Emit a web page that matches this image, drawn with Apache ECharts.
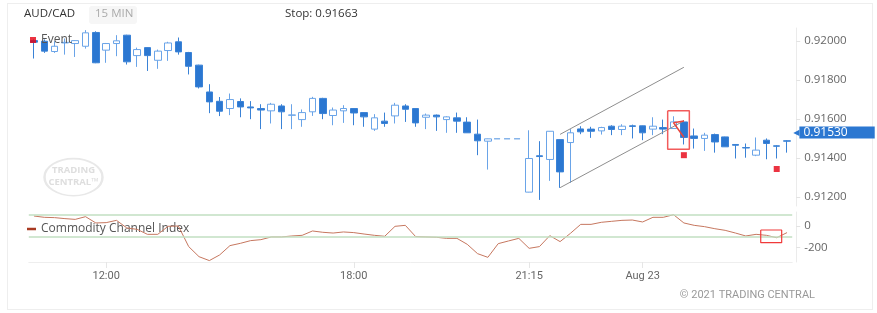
<!DOCTYPE html>
<html>
<head>
<meta charset="utf-8">
<script src="https://cdn.jsdelivr.net/npm/echarts@6/dist/echarts.min.js"></script>
<style>
html,body{margin:0;padding:0;background:#fff;}
#wrap{position:relative;width:877px;height:313px;overflow:hidden;}
#card{position:absolute;left:7px;top:3px;width:866px;height:307px;border:1px solid #eeeeee;box-sizing:border-box;}
#chart{position:absolute;left:0;top:0;width:877px;height:313px;}
</style>
</head>
<body>
<div id="wrap"><div id="card"></div><div id="chart"></div></div>
<script>
// ---- data ----
const categories = [
 '08-20 10:15','08-20 10:30','08-20 10:45','08-20 11:00','08-20 11:15','08-20 11:30','08-20 11:45','08-20 12:00',
 '08-20 12:15','08-20 12:30','08-20 12:45','08-20 13:00','08-20 13:15','08-20 13:30','08-20 13:45','08-20 14:00',
 '08-20 14:15','08-20 14:30','08-20 14:45','08-20 15:00','08-20 15:15','08-20 15:30','08-20 15:45','08-20 16:00',
 '08-20 16:15','08-20 16:30','08-20 16:45','08-20 17:00','08-20 17:15','08-20 17:30','08-20 17:45','08-20 18:00',
 '08-20 18:15','08-20 18:30','08-20 18:45','08-20 19:00','08-20 19:15','08-20 19:30','08-20 19:45','08-20 20:00',
 '08-20 20:15','08-20 20:30','08-20 20:45','08-20 21:00','08-20 21:15',
 '08-22 20:30','08-22 20:45','08-22 21:00',
 '08-22 21:15','08-22 21:30','08-22 21:45','08-22 22:00','08-22 22:15','08-22 22:30','08-22 22:45','08-22 23:00',
 '08-22 23:15','08-22 23:30','08-22 23:45','08-23 00:00','08-23 00:15','08-23 00:30','08-23 00:45','08-23 01:00',
 '08-23 01:15','08-23 01:30','08-23 01:45','08-23 02:00','08-23 02:15','08-23 02:30','08-23 02:45','08-23 03:00',
 '08-23 03:15','08-23 03:30'
];
const tickLabels = {'08-20 12:00':'12:00','08-20 18:00':'18:00','08-22 21:15':'21:15','08-23 00:00':'Aug 23'};

const opens = [0.92003,0.92000,0.91947,0.91991,0.91988,0.91974,0.92045,0.91954,0.91988,0.92031,
 0.91926,0.91967,0.91902,0.91952,0.91997,0.91942,0.91877,0.91739,0.91691,0.91654,
 0.91690,0.91662,0.91654,0.91642,0.91667,0.91619,0.91597,0.91637,0.91706,0.91618,
 0.91642,0.91654,0.91633,0.91548,0.91589,0.91616,0.91667,0.91654,0.91609,0.91620,
 0.91597,0.91606,0.91584,0.91522,0.91486,null,null,null,0.91224,0.91411,
 0.91392,0.91494,0.91479,0.91549,0.91548,0.91539,0.91563,0.91546,0.91565,0.91565,
 0.91548,0.91556,0.91551,0.91585,0.91513,0.91500,0.91520,0.91508,0.91469,0.91453,
 0.91414,0.91491,0.91462,0.91488];
const closes = [0.91995,0.91949,0.91974,0.91994,0.92003,0.92043,0.91889,0.91988,0.92002,0.91894,
 0.91957,0.91926,0.91949,0.91991,0.91945,0.91871,0.91765,0.91688,0.91640,0.91700,
 0.91662,0.91657,0.91646,0.91676,0.91637,0.91621,0.91633,0.91706,0.91628,0.91646,
 0.91654,0.91631,0.91611,0.91606,0.91577,0.91671,0.91650,0.91580,0.91620,0.91611,
 0.91611,0.91589,0.91529,0.91488,0.91498,null,null,null,0.91397,0.91407,
 0.91537,0.91328,0.91529,0.91534,0.91537,0.91556,0.91546,0.91563,0.91562,0.91529,
 0.91563,0.91548,0.91585,0.91505,0.91500,0.91517,0.91482,0.91457,0.91465,0.91451,
 0.91440,0.91474,0.91460,0.91486];
const lows = [0.91911,0.91940,0.91940,0.91931,0.91919,0.91962,0.91887,0.91889,0.91923,0.91880,
 0.91868,0.91847,0.91858,0.91899,0.91931,0.91829,0.91757,0.91630,0.91615,0.91620,
 0.91609,0.91599,0.91548,0.91577,0.91548,0.91548,0.91560,0.91616,0.91599,0.91568,
 0.91580,0.91568,0.91560,0.91539,0.91560,0.91577,0.91585,0.91560,0.91548,0.91539,
 0.91529,0.91529,0.91528,0.91414,0.91340,null,null,null,0.91223,0.91184,
 0.91282,0.91246,0.91272,0.91522,0.91503,0.91520,0.91517,0.91517,0.91500,0.91491,
 0.91517,0.91522,0.91550,0.91469,0.91448,0.91436,0.91427,0.91456,0.91397,0.91401,
 0.91409,0.91393,0.91397,0.91427];
const highs = [0.92009,0.92009,0.92000,0.92014,0.92005,0.92057,0.92051,0.91991,0.92031,0.92033,
 0.91967,0.91969,0.91957,0.91997,0.92019,0.91945,0.91879,0.91779,0.91713,0.91731,
 0.91706,0.91692,0.91676,0.91683,0.91676,0.91676,0.91649,0.91714,0.91709,0.91659,
 0.91671,0.91655,0.91634,0.91625,0.91633,0.91683,0.91676,0.91655,0.91628,0.91623,
 0.91614,0.91633,0.91609,0.91597,0.91499,null,null,null,0.91542,0.91486,
 0.91538,0.91495,0.91548,0.91563,0.91560,0.91560,0.91568,0.91573,0.91571,0.91566,
 0.91609,0.91597,0.91614,0.91594,0.91551,0.91529,0.91525,0.91509,0.91470,0.91474,
 0.91505,0.91500,0.91465,0.91491];

const cciValues = [92,80,77,68,61,86,28,31,52,-18,
 -31,-77,-77,-3,0,-190,-283,-319,-267,-181,
 -160,-135,-126,-101,-101,-92,-86,-46,-58,-65,
 -55,-61,-74,-86,-95,-3,6,-98,-101,-104,
 -114,-114,-169,-255,-289,-163,-138,-114,-206,-190,
 -89,-144,-68,15,15,34,43,52,55,37,
 80,80,104,28,6,-6,-25,-40,-65,-92,
 -77,-86,-108,-61];
const cciLevels = [100, -100];

const eventMarks = [[63, 0.91414], [72, 0.91343]];
const gapLine = [[44.6, 0.91498], [47.4, 0.91498]];
const channelUpper = [[51, 0.91521], [63, 0.91866]];
const channelLower = [[51, 0.91247], [63, 0.91590]];
const alertBox = [[61.43,0.91643],[63.53,0.91643],[63.53,0.91444],[61.43,0.91444],[61.43,0.91643]];
const alertArrow = [[63,0.91590],[62,0.91581],[63,0.91506]];
const cciBox = [[70.45,-37],[72.48,-37],[72.48,-154],[70.45,-154],[70.45,-37]];
const lastPrice = 0.91530;
const stopText = 'Stop: 0.91663';

// ---- build ----
const candleData = opens.map((o,i)=> o===null ? '-' : [o, closes[i], lows[i], highs[i]]);
const FONT = "'Open Sans', 'Noto Sans', sans-serif";
const chart = echarts.init(document.getElementById('chart'), null, {renderer:'canvas'});
const GRID_L = 28.8, GRID_R = 84.8;
const ovl = {type:'line', showSymbol:false, silent:true, animation:false, z:5};

chart.setOption({
  animation:false,
  textStyle:{fontFamily:FONT},
  grid:[
    {left:GRID_L, right:GRID_R, top:28, height:178},
    {left:GRID_L, right:GRID_R, top:212, height:50}
  ],
  legend:[
    {left:30, top:34, itemWidth:6, itemHeight:6, selectedMode:false, padding:0,
     textStyle:{color:'#555', fontSize:12, fontFamily:FONT},
     data:[{name:'Event', icon:'rect', itemStyle:{color:'#e60012'}}]},
    {left:27, top:223, itemWidth:9, itemHeight:2.5, selectedMode:false, padding:0,
     textStyle:{color:'#555', fontSize:12, fontFamily:FONT},
     data:[{name:'Commodity Channel Index', icon:'rect', itemStyle:{color:'#a83a22'}}]}
  ],
  xAxis:[
    {type:'category', gridIndex:0, data:categories, show:false, boundaryGap:true, axisLine:{onZero:false}},
    {type:'value', gridIndex:0, min:-0.5, max:73.5, show:false, axisLine:{onZero:false}},
    {type:'category', gridIndex:1, data:categories, boundaryGap:true, position:'bottom',
     axisLine:{onZero:false, lineStyle:{color:'#eeeeee'}},
     axisTick:{show:true, alignWithLabel:true, length:6, lineStyle:{color:'#e6e6e6'},
       interval:(i,v)=> tickLabels[v]!==undefined},
     axisLabel:{color:'#666', fontSize:11, margin:9, fontFamily:"'Liberation Sans Narrow', 'Roboto', sans-serif",
       interval:(i,v)=> tickLabels[v]!==undefined,
       formatter:(v)=> tickLabels[v]||''},
     splitLine:{show:false}},
    {type:'value', gridIndex:1, min:-0.5, max:73.5, show:false, axisLine:{onZero:false}}
  ],
  yAxis:[
    {type:'value', gridIndex:0, position:'right', offset:4, min:0.911527, max:0.920679, splitNumber:5, scale:true,
     axisLine:{show:true, onZero:false, lineStyle:{color:'#ebebeb'}},
     axisTick:{show:true, length:4, lineStyle:{color:'#e3e3e3'}},
     splitLine:{show:false},
     axisLabel:{color:'#666', fontSize:11.5, margin:8, showMinLabel:false, showMaxLabel:false,
       formatter:(v)=> v.toFixed(5)}},
    {type:'value', gridIndex:1, position:'right', offset:4, min:-332, max:129, splitNumber:2,
     axisLine:{show:true, onZero:false, lineStyle:{color:'#ebebeb'}},
     axisTick:{show:true, length:4, lineStyle:{color:'#e3e3e3'}},
     splitLine:{show:false},
     axisLabel:{color:'#666', fontSize:11.5, margin:8, showMinLabel:false, showMaxLabel:false,
       formatter:(v)=> String(Math.round(v))}}
  ],
  series:[
    {name:'AUD/CAD', type:'candlestick', xAxisIndex:0, yAxisIndex:0, data:candleData, barWidth:7,
     itemStyle:{color:'#ffffff', color0:'#2b77d1', borderColor:'#6aa4e8', borderColor0:'#3a82d6', borderWidth:1}},
    Object.assign({}, ovl, {name:'gap', xAxisIndex:1, yAxisIndex:0, data:gapLine,
      lineStyle:{color:'#86b4ea', width:1.5, type:[6,4]}}),
    {name:'last', type:'scatter', xAxisIndex:1, yAxisIndex:0, data:[[73.5, lastPrice]], clip:false,
     symbolSize:0.1, itemStyle:{color:'#2b77d1', opacity:1}, silent:true, z:8,
     emphasis:{disabled:true},
     label:{show:true, position:'right', distance:1, opacity:1,
       formatter:()=> '{a|◀}{b|'+lastPrice.toFixed(5)+'}',
       rich:{a:{color:'#2b77d1', fontSize:8, fontFamily:'DejaVu Sans'},
             b:{color:'#ffffff', backgroundColor:'#2b77d1', fontSize:12, lineHeight:12, padding:[0,27,0,4], fontFamily:FONT}}}},
    Object.assign({}, ovl, {name:'ch1', xAxisIndex:1, yAxisIndex:0, data:channelUpper,
      lineStyle:{color:'#8e8e8e', width:1}}),
    Object.assign({}, ovl, {name:'ch2', xAxisIndex:1, yAxisIndex:0, data:channelLower,
      lineStyle:{color:'#8e8e8e', width:1}}),
    Object.assign({}, ovl, {name:'box', xAxisIndex:1, yAxisIndex:0, data:alertBox, z:6,
      lineStyle:{color:'#f25b5b', width:1.5}}),
    Object.assign({}, ovl, {name:'arrow', xAxisIndex:1, yAxisIndex:0, data:alertArrow, z:6,
      lineStyle:{color:'#e8473f', width:1.5}}),
    {name:'Event', type:'scatter', xAxisIndex:1, yAxisIndex:0, data:eventMarks, symbol:'rect', symbolSize:6,
     itemStyle:{color:'#e60012'}, silent:true, z:7},
    {name:'Commodity Channel Index', type:'line', xAxisIndex:2, yAxisIndex:1, data:cciValues, showSymbol:false,
     lineStyle:{color:'#c6775f', width:1}, itemStyle:{color:'#a83a22'}, silent:true, z:4,
     markLine:{silent:true, symbol:['none','none'], label:{show:false}, animation:false,
       lineStyle:{color:'#c2dfc2', width:1.5, type:'solid'},
       data:cciLevels.map(v=>({yAxis:v}))}},
    Object.assign({}, ovl, {name:'cbox', xAxisIndex:3, yAxisIndex:1, data:cciBox, z:6,
      lineStyle:{color:'#f03a3a', width:1.2}})
  ],
  graphic:[
    {type:'text', left:24, top:8, style:{text:'AUD/CAD', fill:'#333', font:'11.5px '+FONT}},
    {type:'rect', shape:{x:89, y:6, width:48, height:18, r:3}, style:{fill:'#f6f6f6'}},
    {type:'text', left:95, top:8, style:{text:'15 MIN', fill:'#aaa', font:'11.5px '+FONT}},
    {type:'text', left:285, top:8, style:{text:stopText, fill:'#333', font:'11.5px '+FONT}},
    {type:'group', left:42, top:157, children:[
      {type:'circle', shape:{cx:30, cy:19, r:29}, scaleY:0.64, originY:19, originX:30,
       style:{fill:'none', stroke:'#e8e8e8', lineWidth:2.5}},
      {type:'text', x:30, y:12, style:{text:'TRADING', fill:'#dedede', font:'bold 9.5px '+FONT, textAlign:'center', textVerticalAlign:'middle'}},
      {type:'text', x:30, y:24, style:{text:'CENTRAL™', fill:'#dedede', font:'bold 9.5px '+FONT, textAlign:'center', textVerticalAlign:'middle'}}
    ]},
    {type:'text', right:62, top:290, style:{text:'© 2021 TRADING CENTRAL', fill:'#999', font:"11px 'Liberation Sans Narrow', 'Roboto', sans-serif"}}
  ]
});
</script>
</body>
</html>
